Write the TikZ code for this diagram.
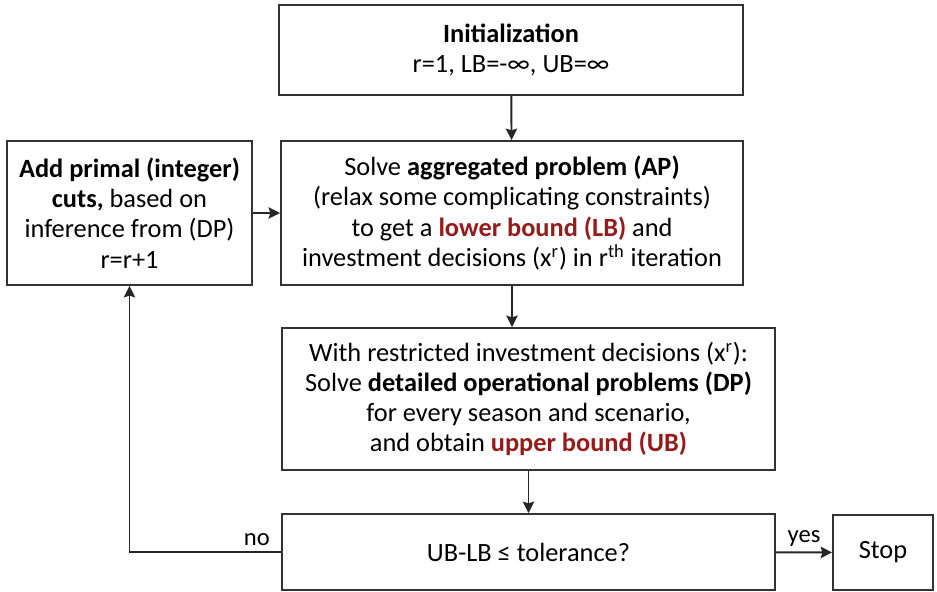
\documentclass[tikz,border=0pt]{standalone}
\usepackage{fontspec}
\setmainfont{Carlito}
\usetikzlibrary{arrows, arrows.meta}
\definecolor{boundred}{RGB}{150,28,28}
\tikzstyle{block} = [rectangle, draw=black!80, line width=1.1pt, fill=white,
text centered, align=center, inner sep=2pt, font=\fontsize{15}{17.2}\selectfont]
\tikzstyle{arrow} = [line width=1.1pt, draw=black!85, ->, >={Stealth[length=6.5pt, width=6.5pt, inset=1pt]}]
\tikzstyle{answer} = [font=\fontsize{14}{16}\selectfont, inner sep=3pt]

\begin{document}
\begin{tikzpicture}

\useasboundingbox (0,0) rectangle (18.74,-11.84);

% ------------------------- nodes -------------------------

% ----- node: init
\node(init)[block, minimum width=9.28cm, minimum height=1.8cm] at (10.22,-1.0)
{\textbf{Initialization}\\r=1, LB=-∞, UB=∞};
% ----- node: ap
\node(ap)[block, minimum width=9.24cm, minimum height=2.88cm] at (10.24,-4.26)
{Solve \textbf{aggregated problem (AP)}\\(relax some complicating constraints)\\to get a \textcolor{boundred}{\textbf{lower bound (LB)}} and\\investment decisions (x\textsuperscript{r}) in r\textsuperscript{th} iteration};
% ----- node: cuts
\node(cuts)[block, minimum width=4.9cm, minimum height=2.88cm] at (2.59,-4.26)
{\textbf{Add primal (integer)}\\\textbf{cuts,} based on\\inference from (DP)\\r=r+1};
% ----- node: dp
\node(dp)[block, minimum width=9.86cm, minimum height=2.84cm] at (10.57,-7.98)
{With restricted investment decisions (x\textsuperscript{r}):\\Solve \textbf{detailed operational problems (DP)}\\for every season and scenario,\\and obtain \textcolor{boundred}{\textbf{upper bound (UB)}}};
% ----- node: tol
\node(tol)[block, minimum width=9.86cm, minimum height=1.52cm] at (10.57,-11.04)
{UB-LB ≤ tolerance?};
% ----- node: stop
\node(stop)[block, minimum width=2.0cm, minimum height=1.5cm] at (17.66,-11.05)
{Stop};

% ------------------------- connections -------------------------
\draw[arrow](init)--(ap);
\draw[arrow](ap.south)--(ap.south |- dp.north);
\draw[arrow](dp)--(tol);
\draw[arrow](cuts)--(ap);
\draw[arrow](tol)--node[answer, above] {yes} (stop);
\draw[arrow](tol.west) -| node[answer, above, pos=0.08] {no} (cuts.south);

\end{tikzpicture}
\end{document}
